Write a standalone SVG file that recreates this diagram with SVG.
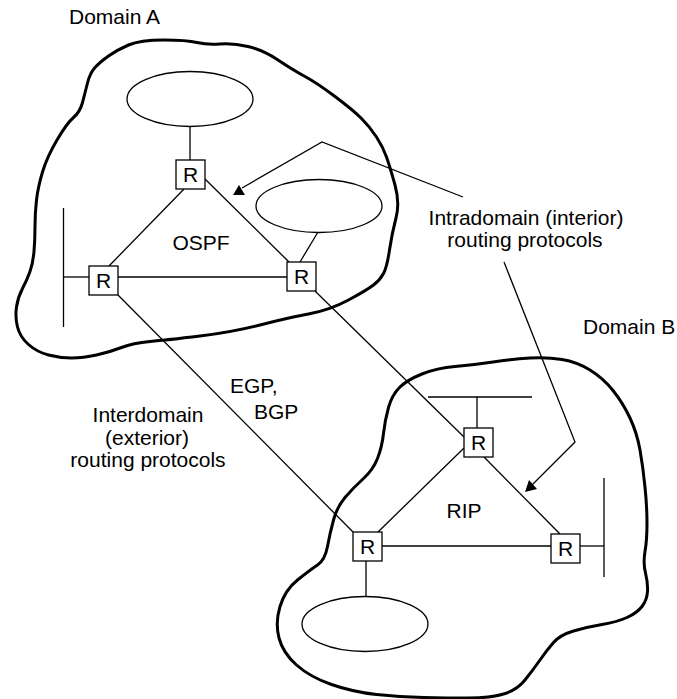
<svg xmlns="http://www.w3.org/2000/svg" width="677" height="699" viewBox="0 0 677 699">
<style>
.cloud{fill:none;stroke:#000;stroke-width:3;stroke-linejoin:round}
.ln{fill:none;stroke:#000;stroke-width:1.3}
.net{fill:#fff;stroke:#000;stroke-width:1.3}
.box{fill:#fff;stroke:#000;stroke-width:1.3}
text{font-family:"Liberation Sans",Arial,Helvetica,sans-serif;font-size:21px;fill:#000}
.c{text-anchor:middle}
</style>
<rect width="677" height="699" fill="#fff"/>
<g id="domainA-cloud">
<path class="cloud" d="M 163.5,40 Q 187,40 197,42.5 Q 207,45 220,44 Q 233,43 248,46.5 Q 263,50 278,60 Q 293,70 305,76.5 Q 317,83 335,96.5 Q 353,110 361.5,118.5 Q 370,127 376.5,137 Q 383,147 386.5,157 Q 390,167 395,185 Q 400,203 396,218 Q 392,233 389.5,250 Q 387,267 383.5,273.5 Q 380,280 373.5,285 Q 367,290 348.5,300 Q 330,310 308.5,314 Q 287,318 260,325 Q 233,332 200,336 Q 167,340 150,341.5 Q 133,343 121.5,347.5 Q 110,352 96.5,355 Q 83,358 71.5,358 Q 60,358 48.5,355 Q 37,352 28.5,344.5 Q 20,337 17.5,327 Q 15,317 16.5,307 Q 18,297 22.5,288.5 Q 27,280 30,271.5 Q 33,263 34,251.5 Q 35,240 35,226.5 Q 35,213 36.5,200 Q 38,187 42.5,172 Q 47,157 57,140 Q 67,123 73.5,117.5 Q 80,112 82.5,102.5 Q 85,93 87.5,83 Q 90,73 95,67.5 Q 100,62 108.5,56 Q 117,50 128.5,45 Q 140,40 163.5,40 Z"/>
</g>
<g id="domainB-cloud">
<path class="cloud" d="M 422,374 Q 437,368 455,366.5 Q 473,365 493,362 Q 513,359 530,358 Q 547,357 562,359.5 Q 577,362 590,370 Q 603,378 613,390.5 Q 623,403 630,418 Q 637,433 640,450 Q 643,467 645,487 Q 647,507 647,523.5 Q 647,540 645,551.5 Q 643,563 645.5,573 Q 648,583 647.5,591.5 Q 647,600 642,606.5 Q 637,613 627,617.5 Q 617,622 602,624.5 Q 587,627 573.5,631 Q 560,635 553.5,642.5 Q 547,650 540,660 Q 533,670 525,680 Q 517,690 503.5,694 Q 490,698 468.5,698 Q 447,698 423.5,697.5 Q 400,697 376.5,694.5 Q 353,692 331.5,684.5 Q 310,677 296.5,665 Q 283,653 279,638 Q 275,623 280,606.5 Q 285,590 297.5,580 Q 310,570 317.5,565 Q 325,560 327.5,546.5 Q 330,533 333.5,520 Q 337,507 345,497.5 Q 353,488 363,479 Q 373,470 377.5,458.5 Q 382,447 383.5,433.5 Q 385,420 388.5,407.5 Q 392,395 399.5,387.5 Q 407,380 422,374 Z"/>
</g>
<g id="connectors">
<line class="ln" x1="190" y1="126" x2="190" y2="160"/>
<line class="ln" x1="184" y1="189" x2="109" y2="266"/>
<line class="ln" x1="205" y1="179" x2="289" y2="262"/>
<line class="ln" x1="118" y1="277" x2="287" y2="277"/>
<line class="ln" x1="63.5" y1="208" x2="63.5" y2="327"/>
<line class="ln" x1="63.5" y1="277" x2="89" y2="277"/>
<line class="ln" x1="318" y1="232" x2="300" y2="262"/>
<line class="ln" x1="118" y1="295" x2="353" y2="532"/>
<line class="ln" x1="315" y1="291" x2="464" y2="437"/>
<line class="ln" x1="428" y1="397" x2="532" y2="397"/>
<line class="ln" x1="477" y1="397" x2="477" y2="428"/>
<line class="ln" x1="464" y1="448" x2="378" y2="532"/>
<line class="ln" x1="484" y1="457" x2="560" y2="534"/>
<line class="ln" x1="382" y1="546" x2="551" y2="546"/>
<line class="ln" x1="604" y1="478" x2="604" y2="577"/>
<line class="ln" x1="580" y1="546" x2="604" y2="546"/>
<line class="ln" x1="366" y1="561" x2="366" y2="597"/>
<polyline class="ln" points="463,197 322,142 242,188"/>
<polygon points="233,195 239,185 245,195" fill="#000"/>
<polyline class="ln" points="504,262 575,442 532,485"/>
<polygon points="525,492 529,480 537,489" fill="#000"/>
</g>
<g id="netA1"><ellipse class="net" cx="190" cy="99" rx="63" ry="27.5"/></g>
<g id="netA2"><ellipse class="net" cx="319" cy="206" rx="63" ry="26.5"/></g>
<g id="netB1"><ellipse class="net" cx="365" cy="624" rx="63" ry="27.5"/></g>
<g id="rA-top"><rect class="box" x="176" y="160" width="29" height="29"/><text class="c" x="190.5" y="182">R</text></g>
<g id="rA-left"><rect class="box" x="89" y="266" width="29" height="29"/><text class="c" x="103.5" y="288">R</text></g>
<g id="rA-right"><rect class="box" x="287" y="262" width="29" height="29"/><text class="c" x="301.5" y="284">R</text></g>
<g id="rB-top"><rect class="box" x="464" y="428" width="29" height="29"/><text class="c" x="478.5" y="450">R</text></g>
<g id="rB-left"><rect class="box" x="353" y="532" width="29" height="29"/><text class="c" x="367.5" y="554">R</text></g>
<g id="rB-right"><rect class="box" x="551" y="534" width="29" height="29"/><text class="c" x="565.5" y="556">R</text></g>
<g id="labels">
<text x="69" y="24">Domain A</text>
<text x="583" y="334">Domain B</text>
<text class="c" x="526" y="225">Intradomain (interior)</text>
<text class="c" x="525" y="247">routing protocols</text>
<text class="c" x="201" y="250">OSPF</text>
<text class="c" x="464" y="518">RIP</text>
<text x="230" y="393">EGP,</text>
<text x="254" y="419">BGP</text>
<text class="c" x="148" y="422">Interdomain</text>
<text class="c" x="147" y="445">(exterior)</text>
<text class="c" x="148" y="467">routing protocols</text>
</g>
</svg>
